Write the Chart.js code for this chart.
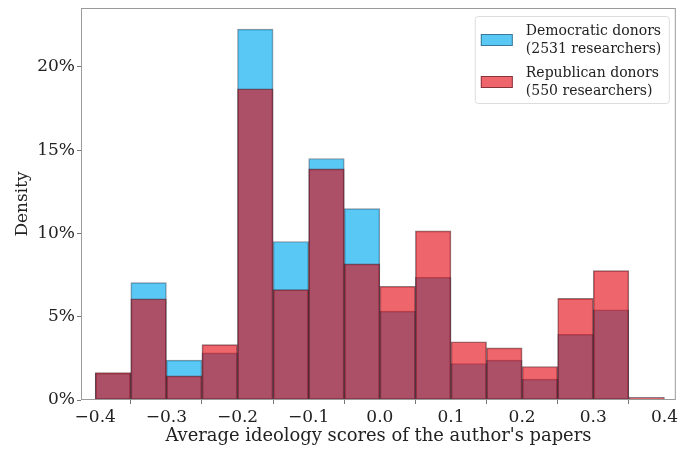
<!DOCTYPE html>
<html>
<head>
<meta charset="utf-8">
<script src="https://cdn.jsdelivr.net/npm/chart.js@4"></script>
<style>
  html, body { margin: 0; padding: 0; background: #fff; }
  #wrap { width: 681px; height: 453px; }
</style>
</head>
<body>
<div id="wrap"><canvas id="histChart" width="681" height="453"></canvas></div>
<script>
// Bin centres of the ideology-score histogram (bin width 0.05)
const binCenters = [-0.375, -0.325, -0.275, -0.225, -0.175, -0.125, -0.075, -0.025,
                    0.025, 0.075, 0.125, 0.175, 0.225, 0.275, 0.325, 0.375];

// Share of researchers per bin, in percent
const demValues = [1.6, 7.05, 2.39, 2.83, 22.27, 9.52, 14.5, 11.49,
                   5.34, 7.37, 2.19, 2.39, 1.25, 3.94, 5.42, 0];
const repValues = [1.65, 6.08, 1.45, 3.33, 18.69, 6.63, 13.88, 8.17,
                   6.83, 10.16, 3.5, 3.13, 2.01, 6.1, 7.77, 0.16];

const demLabel = ['Democratic donors', '(2531 researchers)'];
const repLabel = ['Republican donors', '(550 researchers)'];

const xTicks = [-0.4, -0.3, -0.2, -0.1, 0, 0.1, 0.2, 0.3, 0.4];
const yTicks = [0, 5, 10, 15, 20];

const FONT = '"DejaVu Serif", "Liberation Serif", serif';
const toPoints = vals => vals.map((v, i) => ({ x: binCenters[i], y: v }));

// Box round the plot area, like a matplotlib axes frame
const framePlugin = {
    id: 'frame',
    afterDatasetsDraw(chart) {
        const { ctx, chartArea: a } = chart;
        ctx.save();
        ctx.strokeStyle = '#9a9a9a';
        ctx.lineWidth = 1;
        ctx.strokeRect(a.left + 0.5, a.top + 0.5, a.right - a.left - 1, a.bottom - a.top - 1);
        ctx.restore();
    }
};

// Legend drawn inside the top-right corner of the plot
const insideLegend = {
    id: 'insideLegend',
    afterDraw(chart) {
        const { ctx, chartArea: a } = chart;
        const boxW = 194, boxH = 87;
        const x0 = a.right - 7 - boxW, y0 = a.top + 8;
        ctx.save();
        ctx.beginPath();
        ctx.roundRect(x0 + 0.5, y0 + 0.5, boxW, boxH, 3);
        ctx.fillStyle = 'rgba(255,255,255,0.85)';
        ctx.fill();
        ctx.strokeStyle = '#dcdcdc';
        ctx.stroke();
        ctx.font = '14px ' + FONT;
        ctx.textBaseline = 'middle';
        chart.data.datasets.forEach((ds, i) => {
            const cy = y0 + 24 + i * 42;
            ctx.fillStyle = '#fff';
            ctx.fillRect(x0 + 6, cy - 6, 32, 12);
            ctx.fillStyle = ds.backgroundColor;
            ctx.fillRect(x0 + 6, cy - 6, 32, 12);
            ctx.strokeStyle = ds.borderColor;
            ctx.strokeRect(x0 + 6.5, cy - 5.5, 31, 11);
            ctx.fillStyle = '#222';
            ds.label.forEach((line, j) => {
                ctx.fillText(line, x0 + 51, cy - 9 + j * 18);
            });
        });
        ctx.restore();
    }
};

const config = {
    type: 'bar',
    data: {
        datasets: [{
            label: demLabel,
            data: toPoints(demValues),
            backgroundColor: 'rgba(0, 170, 240, 0.65)',
            borderColor: 'rgba(30, 40, 60, 0.5)',
            order: 1
        }, {
            label: repLabel,
            data: toPoints(repValues),
            backgroundColor: 'rgba(227, 0, 10, 0.6)',
            borderColor: 'rgba(50, 10, 20, 0.55)',
            order: 0
        }]
    },
    options: {
        responsive: false,
        animation: false,
        layout: { padding: { left: 0, right: 3, top: 8, bottom: 0 } },
        datasets: {
            bar: {
                grouped: false,
                barPercentage: 1,
                categoryPercentage: 1,
                borderWidth: 1,
                borderSkipped: false
            }
        },
        plugins: {
            legend: { display: false },
            tooltip: { enabled: false }
        },
        scales: {
            x: {
                type: 'linear',
                offset: false,
                min: -0.42,
                max: 0.416,
                afterBuildTicks: scale => { scale.ticks = xTicks.map(v => ({ value: v })); },
                afterFit: scale => { scale.height = 53; },
                grid: { drawOnChartArea: false, drawTicks: true, tickLength: 4, color: '#777' },
                border: { display: false },
                ticks: {
                    color: '#222',
                    padding: 3,
                    maxRotation: 0,
                    font: { family: FONT, size: 17 },
                    callback: v => (v < -1e-9 ? '\u2212' : '') + Math.abs(v).toFixed(1)
                },
                title: {
                    display: true,
                    text: "Average ideology scores of the author's papers",
                    color: '#222',
                    font: { family: FONT, size: 17.9 },
                    padding: { top: 0, bottom: 6 }
                }
            },
            y: {
                min: 0,
                max: 23.54,
                afterBuildTicks: scale => { scale.ticks = yTicks.map(v => ({ value: v })); },
                afterFit: scale => {
                    scale.width = 81;
                    scale.paddingTop = 0;
                    scale.paddingBottom = 0;
                },
                grid: { drawOnChartArea: false, drawTicks: true, tickLength: 4, color: '#777' },
                border: { display: false },
                ticks: {
                    color: '#222',
                    padding: 2,
                    font: { family: FONT, size: 17 },
                    callback: v => v + '%'
                },
                title: {
                    display: true,
                    text: 'Density',
                    color: '#222',
                    font: { family: FONT, size: 17 },
                    padding: { top: 12, bottom: 0 }
                }
            }
        }
    },
    plugins: [framePlugin, insideLegend]
};

const ctx = document.getElementById('histChart').getContext('2d');
const histChart = new Chart(ctx, config);
</script>
</body>
</html>
